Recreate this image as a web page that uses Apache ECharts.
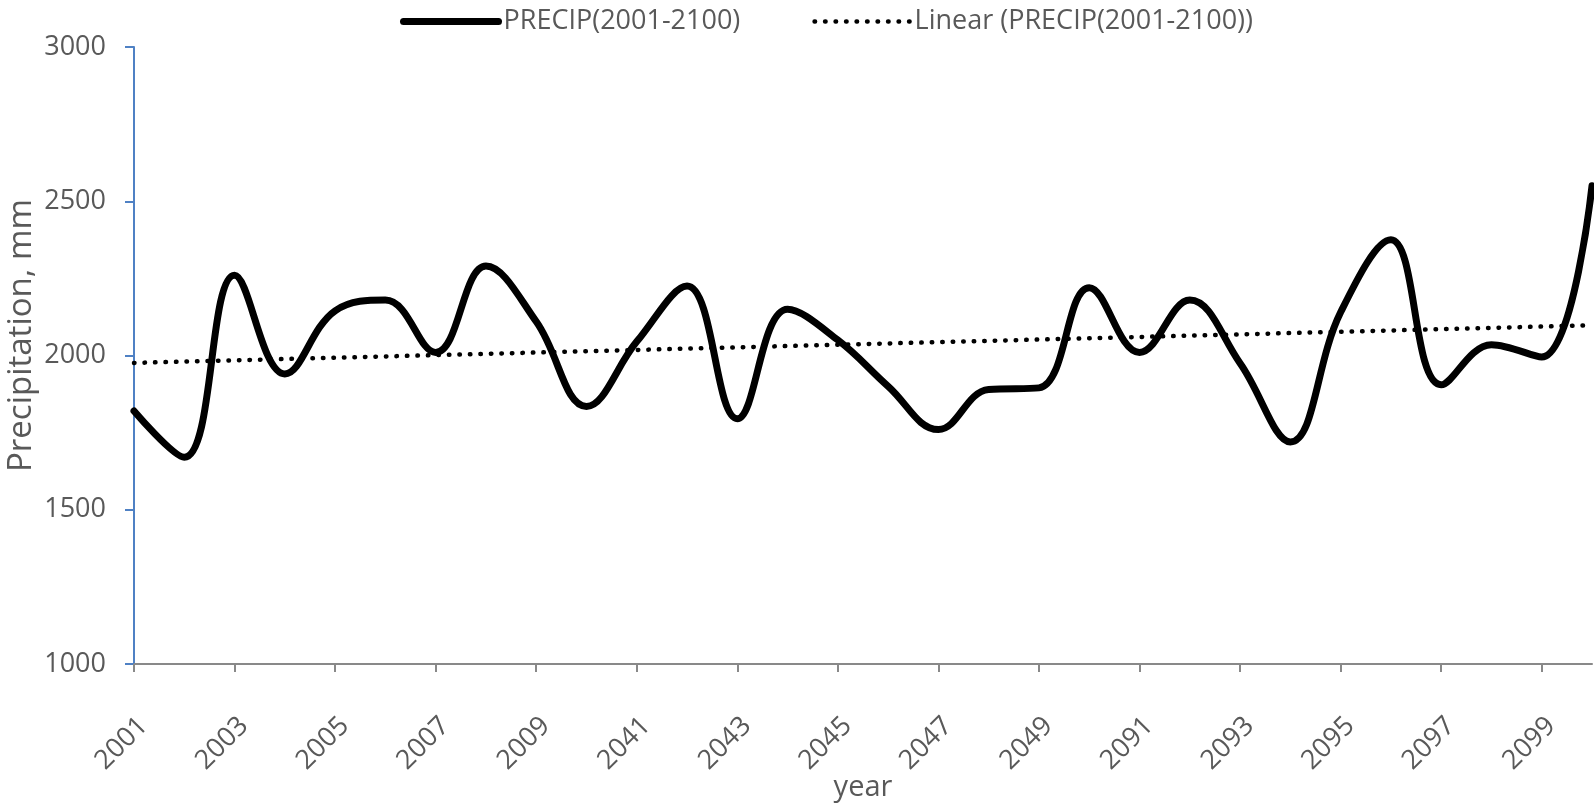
<!DOCTYPE html>
<html>
<head>
<meta charset="utf-8">
<title>PRECIP 2001-2100</title>
<script src="https://cdn.jsdelivr.net/npm/echarts@6/dist/echarts.min.js"></script>
<style>
  html, body { margin: 0; padding: 0; background: #fff; }
  #chart { width: 1594px; height: 807px; }
</style>
</head>
<body>
<div id="chart"></div>
<script>
// years shown on the category axis (three 10-year periods)
var years = [
  "2001", "2002", "2003", "2004", "2005", "2006", "2007", "2008", "2009", "2010",
  "2041", "2042", "2043", "2044", "2045", "2046", "2047", "2048", "2049", "2050",
  "2091", "2092", "2093", "2094", "2095", "2096", "2097", "2098", "2099", "2100"
];

// annual precipitation, mm
var precip = [
  1820, 1670, 2260, 1940, 2145, 2180, 2010, 2290, 2110, 1835,
  2045, 2225, 1795, 2150, 2050, 1900, 1760, 1890, 1895, 2220,
  2010, 2180, 1975, 1720, 2140, 2375, 1905, 2035, 1995, 2550
];

// linear trend line: value at first and last year
var trendFirst = 1976;
var trendLast = 2098;

var yTicks = [1000, 1500, 2000, 2500, 3000];

var textColor = "#595959";
var font = "'Open Sans', sans-serif";

// trend series: only the two ends, joined by a straight line
var trend = years.map(function (y, i) {
  if (i === 0) return trendFirst;
  if (i === years.length - 1) return trendLast;
  return null;
});

var chartDom = document.getElementById("chart");
var myChart = echarts.init(chartDom);
var option = {
  animation: false,
  legend: {
    left: 395,
    top: 3,
    itemWidth: 95,
    itemHeight: 14,
    itemGap: 72,
    itemStyle: { opacity: 0 },
    textStyle: { color: textColor, fontSize: 27, fontFamily: font },
    data: [
      {
        name: "PRECIP(2001-2100)",
        lineStyle: { color: "#000", width: 7, cap: "round" }
      },
      {
        name: "Linear (PRECIP(2001-2100))",
        lineStyle: { color: "#000", width: 4.5, type: [0.5, 10], cap: "round" }
      }
    ]
  },
  grid: {
    left: 134,
    right: 2,
    top: 47,
    bottom: 143,
    containLabel: false,
    outerBoundsMode: "none"
  },
  xAxis: {
    type: "category",
    boundaryGap: false,
    data: years,
    name: "year",
    nameLocation: "middle",
    nameGap: 109,
    nameMoveOverlap: false,
    nameTextStyle: { color: textColor, fontSize: 29, fontFamily: font },
    axisLine: { lineStyle: { color: "#898989", width: 2 } },
    axisTick: { interval: 1, length: 8, lineStyle: { color: "#898989", width: 2 } },
    axisLabel: {
      interval: 1,
      rotate: 45,
      align: "right",
      verticalAlign: "top",
      margin: 48,
      color: textColor,
      fontSize: 27,
      fontFamily: font
    }
  },
  yAxis: {
    type: "value",
    min: yTicks[0],
    max: yTicks[yTicks.length - 1],
    interval: 500,
    name: "Precipitation, mm",
    nameLocation: "middle",
    nameGap: 96,
    nameMoveOverlap: false,
    nameRotate: 90,
    nameTextStyle: {
      color: textColor,
      fontSize: 33,
      fontFamily: font,
      padding: [0, 0, 0, 40]
    },
    axisLine: { show: true, lineStyle: { color: "#4F81C4", width: 2 } },
    axisTick: { show: true, length: 9, lineStyle: { color: "#4F81C4", width: 2 } },
    axisLabel: {
      margin: 28,
      color: textColor,
      fontSize: 27,
      fontFamily: font,
      formatter: function (v) { return String(v); }
    },
    splitLine: { show: false }
  },
  series: [
    {
      name: "PRECIP(2001-2100)",
      type: "line",
      smooth: 0.4,
      symbol: "none",
      data: precip,
      lineStyle: { color: "#000", width: 7, cap: "round", join: "round" },
      itemStyle: { color: "#000" }
    },
    {
      name: "Linear (PRECIP(2001-2100))",
      type: "line",
      symbol: "none",
      connectNulls: true,
      data: trend,
      lineStyle: { color: "#000", width: 4.5, type: [0.5, 10], cap: "round" },
      itemStyle: { color: "#000" }
    }
  ]
};
myChart.setOption(option);
</script>
</body>
</html>
